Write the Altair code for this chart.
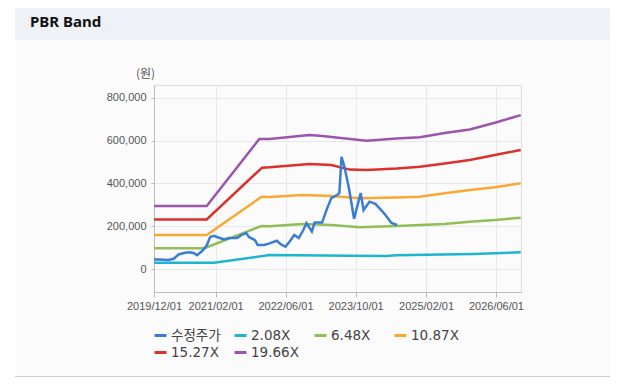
import altair as alt
import pandas as pd

# ---------------- data ----------------
series_names = ["수정주가", "2.08X", "6.48X", "10.87X", "15.27X", "19.66X"]
series_colors = ["#3b7dd0", "#1eb6cf", "#8fbf55", "#f9a832", "#d9312b", "#9b56ab"]

price_dates = ["2019-12-01", "2020-01-01", "2020-03-10", "2020-04-15", "2020-05-20", "2020-06-25",
               "2020-08-01", "2020-09-01", "2020-09-25", "2020-11-01", "2020-12-01", "2020-12-25",
               "2021-01-20", "2021-03-01", "2021-04-01", "2021-05-05", "2021-07-01", "2021-08-01",
               "2021-09-01", "2021-09-20", "2021-11-01", "2021-11-20", "2022-01-05", "2022-02-10",
               "2022-04-01", "2022-05-01", "2022-06-01", "2022-07-01", "2022-08-01", "2022-09-01",
               "2022-10-01", "2022-10-25", "2022-12-01", "2022-12-20", "2023-02-10", "2023-03-15",
               "2023-04-15", "2023-05-25", "2023-06-10", "2023-06-25", "2023-07-15", "2023-08-15",
               "2023-09-20", "2023-11-05", "2023-11-25", "2024-01-05", "2024-02-15", "2024-03-20",
               "2024-04-25", "2024-06-05", "2024-07-15"]
price_values = [45000, 45000, 42000, 48000, 68000, 75000,
                78000, 75000, 65000, 85000, 110000, 150000,
                155000, 145000, 138000, 145000, 145000, 160000,
                168000, 150000, 135000, 112000, 112000, 120000,
                132000, 115000, 104000, 130000, 159000, 145000,
                180000, 215000, 175000, 217000, 217000, 280000,
                332000, 346000, 355000, 525000, 478000, 380000,
                235000, 355000, 276000, 315000, 305000, 280000,
                253000, 215000, 206000]

band_208_dates = ["2019-12-01", "2021-01-20", "2022-02-10", "2023-08-20", "2024-05-01",
                  "2024-07-12", "2025-12-25", "2026-11-20"]
band_208_values = [29000, 29000, 65000, 62000, 61000, 64000, 70000, 78000]

band_648_dates = ["2019-12-01", "2020-11-15", "2021-12-15", "2022-02-10", "2022-09-28",
                  "2023-04-15", "2023-10-28", "2024-07-12", "2024-12-20", "2025-06-10",
                  "2025-12-01", "2026-05-25", "2026-11-20"]
band_648_values = [97000, 97000, 201000, 200000, 210000, 206000, 195000, 201000, 206000,
                   210000, 221000, 229000, 240000]

band_1087_dates = ["2019-12-01", "2020-12-01", "2021-12-15", "2022-02-10", "2022-09-28",
                   "2023-04-15", "2023-10-28", "2024-07-12", "2024-12-20", "2025-06-10",
                   "2025-12-01", "2026-05-25", "2026-11-20"]
band_1087_values = [159000, 159000, 337000, 337000, 346000, 341000, 331000, 334000, 338000,
                    354000, 370000, 382000, 401000]

band_1527_dates = ["2019-12-01", "2020-12-01", "2021-12-20", "2022-02-10", "2022-11-15",
                   "2023-04-15", "2023-08-20", "2023-12-15", "2024-07-12", "2024-12-20",
                   "2025-06-10", "2025-12-01", "2026-05-25", "2026-11-20"]
band_1527_values = [232000, 232000, 474000, 476000, 491000, 486000, 465000, 463000, 470000,
                    478000, 494000, 510000, 533000, 557000]

band_1966_dates = ["2019-12-01", "2020-12-01", "2021-12-01", "2022-02-10", "2022-11-15",
                   "2023-02-12", "2023-12-15", "2024-07-12", "2024-12-20", "2025-06-10",
                   "2025-12-01", "2026-05-25", "2026-11-20"]
band_1966_values = [295000, 295000, 608000, 608000, 627000, 622000, 600000, 610000, 616000,
                    636000, 653000, 684000, 720000]

y_ticks = [0, 200000, 400000, 600000, 800000]
x_ticks = [(2019, 12, 1), (2021, 2, 1), (2022, 6, 1), (2023, 10, 1), (2025, 2, 1), (2026, 6, 1)]

# ---------------- frames ----------------
def frame(name, dates, values):
    return pd.DataFrame({"date": pd.to_datetime(dates), "value": values, "series": name})

bands = pd.concat([
    frame("2.08X", band_208_dates, band_208_values),
    frame("6.48X", band_648_dates, band_648_values),
    frame("10.87X", band_1087_dates, band_1087_values),
    frame("15.27X", band_1527_dates, band_1527_values),
    frame("19.66X", band_1966_dates, band_1966_values),
], ignore_index=True)
price = frame("수정주가", price_dates, price_values)

W, H = 367, 207
PL, PT, PR, PB = 146, 77, 89, 86

x_enc = alt.X(
    "date:T",
    scale=alt.Scale(domain=[alt.DateTime(year=2019, month=12, date=1),
                            alt.DateTime(year=2026, month=11, date=22)]),
    axis=alt.Axis(
        values=[alt.DateTime(year=y, month=m, date=d) for (y, m, d) in x_ticks],
        format="%Y/%m/%d", title=None, labelFlush=False, labelOverlap=False,
        labelFont="Liberation Sans", labelFontSize=11, labelColor="#555",
        tickSize=5, tickColor="#bbb", domainColor="#bbb", labelPadding=3,
        grid=True, gridColor="#e8e8e8",
    ),
)
y_enc = alt.Y(
    "value:Q",
    scale=alt.Scale(domain=[-107600, 860800], nice=False, zero=False),
    axis=alt.Axis(
        values=y_ticks, format=",.0f", title="(원)", titleAngle=0, titleX=-9, titleY=-12,
        titleAlign="center", titleBaseline="middle", titleFont="Noto Sans CJK KR",
        titleFontSize=12, titleFontWeight="normal", titleColor="#555",
        labelFont="Liberation Sans", labelFontSize=11, labelColor="#555",
        tickSize=3, tickColor="#bbb", domainColor="#bbb", labelPadding=5,
        grid=True, gridColor="#e8e8e8",
    ),
)
legend = alt.Legend(
    title=None, orient="none", direction="horizontal", legendX=-1, legendY=243, columns=4,
    gridAlign="all", symbolType="stroke", symbolSize=144, symbolStrokeWidth=3,
    columnPadding=7, rowPadding=3, labelOffset=3, labelFontSize=13.5, labelColor="#444",
    labelFont="DejaVu Sans, Noto Sans CJK KR", padding=0,
)
color_enc = alt.Color("series:N", scale=alt.Scale(domain=series_names, range=series_colors),
                      legend=legend)

band_lines = alt.Chart(bands).mark_line(strokeWidth=2.5).encode(
    x=x_enc, y=y_enc, color=color_enc, detail="series:N")
price_line = alt.Chart(price).mark_line(strokeWidth=2.5).encode(
    x=x_enc, y=y_enc, color=color_enc)

one = pd.DataFrame({"k": [0]})
white_strip = alt.Chart(one).mark_rect(color="white").encode(
    x=alt.value(-PL), x2=alt.value(-PL + 7), y=alt.value(-PT), y2=alt.value(H + PB))
header = alt.Chart(one).mark_rect(color="#eef2f7").encode(
    x=alt.value(-PL + 7), x2=alt.value(W + PR), y=alt.value(-PT), y2=alt.value(-45))
bottom_line = alt.Chart(one).mark_rule(color="#cfcfcf", strokeWidth=1).encode(
    x=alt.value(-PL + 7), x2=alt.value(W + PR), y=alt.value(H + PB - 1.5))
title = alt.Chart(pd.DataFrame({"t": ["PBR Band"]})).mark_text(
    align="left", baseline="middle", font="Noto Sans", fontSize=15, fontWeight="bold",
    color="#111").encode(text="t:N", x=alt.value(30 - 154), y=alt.value(22 - 85))

chart = alt.layer(white_strip, header, bottom_line, title, band_lines, price_line).properties(
    width=W, height=H, background="#fbfbfc",
    padding={"left": PL, "top": PT, "right": PR, "bottom": PB},
    autosize=alt.AutoSizeParams(type="none"),
).configure_view(stroke="#dcdcdc")

chart.save("out.html", embed_options={"renderer": "svg", "actions": False})
